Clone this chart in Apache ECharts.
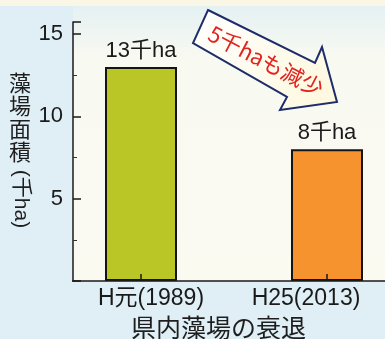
<!DOCTYPE html>
<html>
<head>
<meta charset="utf-8">
<script src="https://cdn.jsdelivr.net/npm/echarts@6/dist/echarts.min.js"></script>
<style>
  html, body { margin: 0; padding: 0; background: #dfeff5; }
  #chart { width: 385px; height: 339px; }
</style>
</head>
<body>
<div id="chart"></div>
<script>
// Seaweed bed area in the prefecture (thousand ha)
var categories = ['H元(1989)', 'H25(2013)'];
var areaValues = [13, 8];
var valueLabels = ['13千ha', '8千ha'];
var barColors = ['#b9c626', '#f7932f'];
var yTicks = [5, 10, 15];

var FONT = '"Liberation Sans", "Noto Sans CJK JP", sans-serif';
var JP = '"Noto Sans CJK JP", "Liberation Sans", sans-serif';

var chart = echarts.init(document.getElementById('chart'), null, { renderer: 'canvas' });

var option = {
  backgroundColor: '#dfeff5',
  animation: false,
  title: {
    text: '県内藻場の衰退',
    left: 126,
    top: 310,
    textStyle: { fontFamily: JP, fontSize: 25, fontWeight: 'normal', color: '#1e1e1e' }
  },
  grid: { left: 48, width: 372, top: 22, bottom: 58, containLabel: false, outerBoundsMode: 'none' },
  xAxis: {
    type: 'category',
    data: categories,
    z: 5,
    axisLine: { show: true, lineStyle: { color: '#1a1a1a', width: 1.5 } },
    axisTick: { show: true, inside: true, alignWithLabel: true, length: 7, lineStyle: { color: '#1a1a1a', width: 1.5 } },
    axisLabel: {
      margin: 6,
      interval: 0,
      formatter: function (v, i) { return (i === 0 ? '{a|' : '{b|') + v + '}'; },
      rich: {
        a: { fontFamily: FONT, fontSize: 23, color: '#1a1a1a', padding: [0, 0, 0, 20] },
        b: { fontFamily: FONT, fontSize: 23, color: '#1a1a1a', padding: [0, 42, 0, 0] }
      }
    }
  },
  yAxis: {
    type: 'value',
    min: 0,
    max: 15.73,
    interval: 5,
    offset: -25,
    z: 5,
    splitLine: { show: false },
    axisLine: { show: true, lineStyle: { color: '#1a1a1a', width: 1.5 } },
    axisTick: { show: true, inside: true, length: 8, lineStyle: { color: '#1a1a1a', width: 1.5 } },
    minorTick: { show: true, splitNumber: 2, length: 4, lineStyle: { color: '#333', width: 1 } },
    axisLabel: {
      margin: 10,
      fontFamily: FONT,
      fontSize: 22,
      color: '#1a1a1a',
      formatter: function (v) { return yTicks.indexOf(v) >= 0 ? String(v) : ''; }
    }
  },
  series: [{
    type: 'bar',
    barWidth: 72,
    z: 3,
    data: areaValues.map(function (v, i) {
      return {
        value: v,
        itemStyle: { color: barColors[i], borderColor: '#141414', borderWidth: 2 },
        label: { formatter: valueLabels[i] }
      };
    }),
    label: {
      show: true,
      position: 'top',
      distance: 5,
      fontFamily: FONT,
      fontSize: 22,
      color: '#1a1a1a'
    }
  }],
  graphic: [
    // plot area background
    {
      type: 'rect', z: -10, silent: true,
      shape: { x: 73, y: 6, width: 312, height: 275 },
      style: {
        fill: new echarts.graphic.LinearGradient(0, 0, 0, 1, [
          { offset: 0, color: '#e4f1f3' },
          { offset: 0.18, color: '#f8f9f1' },
          { offset: 1, color: '#fbfaf1' }
        ])
      }
    },
    // cream band along the top edge
    {
      type: 'rect', z: -9, silent: true,
      shape: { x: 0, y: 0, width: 385, height: 6 },
      style: { fill: '#fbf7e7' }
    },
    // hide axis line left of the value axis
    {
      type: 'rect', z: 100, silent: true,
      shape: { x: 0, y: 276, width: 72, height: 10 },
      style: { fill: '#dfeff5' }
    },
    // vertical axis title
    {
      type: 'text', z: 50, left: 9, top: 71,
      style: {
        text: '藻\n場\n面\n積',
        font: '22px ' + JP,
        lineHeight: 23,
        fill: '#1e1e1e'
      }
    },
    {
      type: 'text', z: 50, x: 21, y: 199, rotation: -Math.PI / 2,
      style: {
        text: '(千ha)',
        font: '21px ' + FONT,
        fill: '#1e1e1e',
        align: 'center',
        verticalAlign: 'middle'
      }
    },
    // decrease arrow
    {
      type: 'polygon', z: 60,
      shape: {
        points: [[208, 10], [315, 63], [322, 47], [337, 102], [280, 110], [287, 97], [193, 43]]
      },
      style: {
        fill: new echarts.graphic.LinearGradient(0, 0, 1, 1, [
          { offset: 0, color: '#ffffff' },
          { offset: 1, color: '#fdf8dc' }
        ]),
        stroke: '#1f2c6c',
        lineWidth: 2,
        lineJoin: 'miter'
      }
    },
    {
      type: 'text', z: 61, x: 266, y: 61, rotation: -0.48,
      style: {
        text: '5千haも減少',
        font: '22px ' + JP,
        fill: '#e3231f',
        align: 'center',
        verticalAlign: 'middle'
      }
    }
  ]
};

chart.setOption(option);
</script>
</body>
</html>
